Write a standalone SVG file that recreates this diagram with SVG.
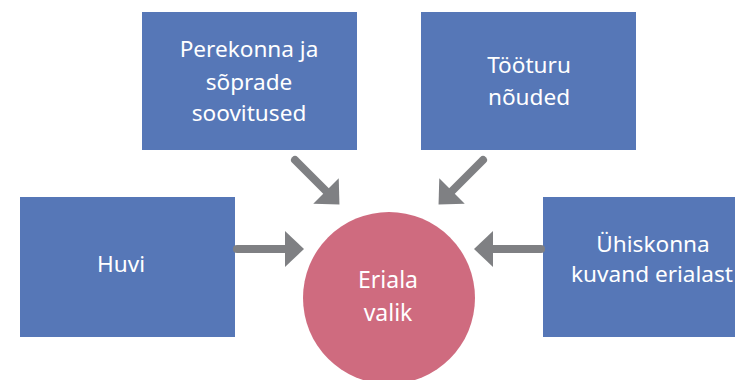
<svg xmlns="http://www.w3.org/2000/svg" width="735" height="380" viewBox="0 0 735 380">
<style>
.box{fill:#5677B7}
.lbl{font-family:"Noto Sans","Open Sans",sans-serif;font-size:22.6px;fill:#ffffff;text-anchor:middle}
.big{font-size:23px}
.conn{stroke:#7F8083;stroke-width:8;stroke-linecap:round;fill:none}
</style>
<defs>
<marker id="ah" markerUnits="userSpaceOnUse" markerWidth="20" markerHeight="36" refX="0" refY="18" orient="auto" overflow="visible">
<path d="M0,0 L19,18 L0,36 Z" fill="#7F8083"/>
</marker>
</defs>
<rect width="735" height="380" fill="#ffffff"/>
<g id="node-perekonna">
<rect class="box" x="142" y="12" width="215" height="138"/>
<text class="lbl" x="249" y="57">Perekonna ja</text>
<text class="lbl" x="249" y="90">sõprade</text>
<text class="lbl" x="249" y="121">soovitused</text>
</g>
<g id="node-tooturu">
<rect class="box" x="421" y="12" width="215" height="138"/>
<text class="lbl" x="529" y="73">Tööturu</text>
<text class="lbl" x="529" y="105">nõuded</text>
</g>
<g id="node-huvi">
<rect class="box" x="20" y="197" width="215" height="140"/>
<text class="lbl" x="121" y="272">Huvi</text>
</g>
<g id="node-uhiskonna">
<rect class="box" x="543" y="197" width="215" height="140"/>
<text class="lbl" x="653" y="252">Ühiskonna</text>
<text class="lbl" x="652" y="282">kuvand erialast</text>
</g>
<g id="node-eriala">
<ellipse cx="389" cy="298" rx="86" ry="86" fill="#CF6B7F"/>
<text class="lbl big" x="388" y="288">Eriala</text>
<text class="lbl big" x="388" y="321">valik</text>
</g>
<g id="connectors">
<line class="conn" x1="237" y1="249" x2="285" y2="249" marker-end="url(#ah)"/>
<line class="conn" x1="541" y1="249" x2="493" y2="249" marker-end="url(#ah)"/>
<line class="conn" x1="295" y1="160" x2="326" y2="191" marker-end="url(#ah)"/>
<line class="conn" x1="483" y1="160" x2="452" y2="191" marker-end="url(#ah)"/>
</g>
</svg>
